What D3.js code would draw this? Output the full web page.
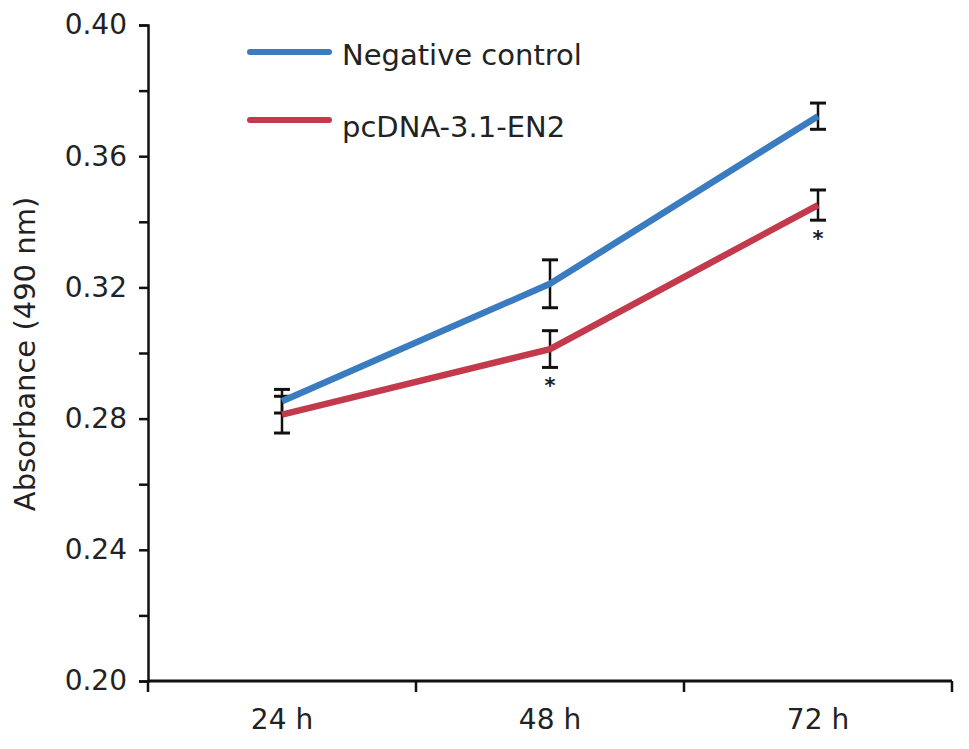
<!DOCTYPE html>
<html>
<head>
<meta charset="utf-8">
<script src="https://cdn.jsdelivr.net/npm/d3@7/dist/d3.min.js"></script>
<style>
  html, body { margin: 0; padding: 0; background: #fff; }
  svg { display: block; font-family: "DejaVu Sans", sans-serif; }
</style>
</head>
<body>
<svg id="chart" width="969" height="749"></svg>
<script>
// ---- data ----
const categories = ["24 h", "48 h", "72 h"];
const seriesNames = ["Negative control", "pcDNA-3.1-EN2"];
const negControl = [0.2853, 0.3211, 0.3722];
const negControlErr = [0.0036, 0.0073, 0.0040];
const pcDNA = [0.2812, 0.3012, 0.3451];
const pcDNAErr = [0.0056, 0.0056, 0.0046];
const pcDNASignificant = [false, true, true];
const yTickValues = [0.20, 0.22, 0.24, 0.26, 0.28, 0.30, 0.32, 0.34, 0.36, 0.38, 0.40];
const yLabelled = [0.20, 0.24, 0.28, 0.32, 0.36, 0.40];
const yTitle = "Absorbance (490 nm)";

// ---- layout ----
const svg = d3.select("#chart");
const W = 969, H = 749;
const margin = { left: 148, right: 17, top: 25, bottom: 68 };
const colors = ["#3b7cc1", "#c23a4b"];
const textColor = "#222";

const x = d3.scaleBand().domain(categories).range([margin.left, W - margin.right]).padding(0);
const y = d3.scaleLinear().domain([0.20, 0.40]).range([H - margin.bottom, margin.top]);

// y axis
const yAxis = d3.axisLeft(y)
  .tickValues(yTickValues)
  .tickSize(9)
  .tickPadding(12)
  .tickFormat(d => yLabelled.some(v => Math.abs(v - d) < 1e-9) ? d3.format(".2f")(d) : "");
const gy = svg.append("g").attr("transform", `translate(${margin.left},0)`).call(yAxis);
gy.select(".domain").attr("stroke", "#111").attr("stroke-width", 2.5);
gy.selectAll(".tick line").attr("stroke", "#111").attr("stroke-width", 2.5);
gy.selectAll(".tick text").attr("fill", textColor).attr("font-size", 28)
  .attr("font-family", "DejaVu Sans, sans-serif");

// x axis: labels at band centres, ticks at band edges
const xAxis = d3.axisBottom(x).tickSize(0).tickPadding(28);
const gx = svg.append("g").attr("transform", `translate(0,${H - margin.bottom})`).call(xAxis);
gx.select(".domain").remove();
gx.selectAll(".tick text").attr("fill", textColor).attr("font-size", 28)
  .attr("font-family", "DejaVu Sans, sans-serif");
gx.append("line")
  .attr("x1", margin.left).attr("x2", W - margin.right)
  .attr("y1", 0).attr("y2", 0)
  .attr("stroke", "#111").attr("stroke-width", 3);
const edges = categories.map(c => x(c)).concat([x(categories[categories.length - 1]) + x.bandwidth()]);
gx.selectAll("line.edge").data(edges).enter().append("line")
  .attr("class", "edge")
  .attr("x1", d => d).attr("x2", d => d)
  .attr("y1", 0).attr("y2", 11)
  .attr("stroke", "#111").attr("stroke-width", 2.5);

// y title
svg.append("text")
  .attr("transform", `translate(35,354) rotate(-90)`)
  .attr("text-anchor", "middle")
  .attr("font-size", 29)
  .attr("fill", textColor)
  .text(yTitle);

const cx = c => x(c) + x.bandwidth() / 2;
const series = [
  { name: seriesNames[0], values: negControl, err: negControlErr, color: colors[0] },
  { name: seriesNames[1], values: pcDNA, err: pcDNAErr, color: colors[1] }
];

// error bars
const capHalf = 8;
series.forEach(s => {
  const g = svg.append("g");
  categories.forEach((c, i) => {
    const xc = cx(c);
    const top = y(s.values[i] + s.err[i]);
    const bot = y(s.values[i] - s.err[i]);
    g.append("line").attr("x1", xc).attr("x2", xc).attr("y1", top).attr("y2", bot)
      .attr("stroke", "#111").attr("stroke-width", 2.5);
    [top, bot].forEach(yy => {
      g.append("line").attr("x1", xc - capHalf).attr("x2", xc + capHalf).attr("y1", yy).attr("y2", yy)
        .attr("stroke", "#111").attr("stroke-width", 3);
    });
  });
});

// lines
const line = d3.line().x((d, i) => cx(categories[i])).y(d => y(d));
series.forEach(s => {
  svg.append("path")
    .datum(s.values)
    .attr("d", line)
    .attr("fill", "none")
    .attr("stroke", s.color)
    .attr("stroke-width", 6.5)
    .attr("stroke-linecap", "butt")
    .attr("stroke-linejoin", "round");
});

// significance stars
categories.forEach((c, i) => {
  if (!pcDNASignificant[i]) return;
  svg.append("text")
    .attr("x", cx(c))
    .attr("y", y(pcDNA[i] - pcDNAErr[i]) + 26)
    .attr("text-anchor", "middle")
    .attr("font-size", 21)
    .attr("font-weight", "bold")
    .attr("fill", textColor)
    .text("*");
});

// legend
const legendY = [52, 120];
const legend = svg.append("g");
series.forEach((s, i) => {
  legend.append("line")
    .attr("x1", 250).attr("x2", 329)
    .attr("y1", legendY[i]).attr("y2", legendY[i])
    .attr("stroke", s.color).attr("stroke-width", 6)
    .attr("stroke-linecap", "round");
  legend.append("text")
    .attr("x", 342).attr("y", legendY[i] + 13 + (i === 1 ? 4 : 0))
    .attr("font-size", 29)
    .attr("fill", textColor)
    .text(s.name);
});
</script>
</body>
</html>
